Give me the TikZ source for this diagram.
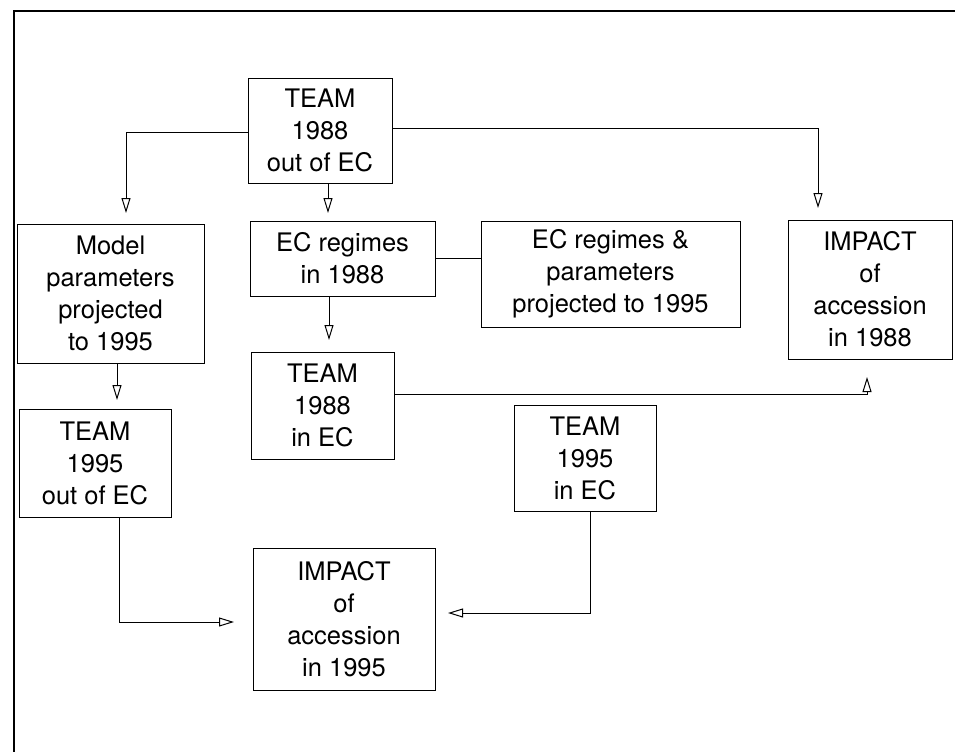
\documentclass[tikz,border=0pt]{standalone}
\usepackage{fontspec}
\setmainfont{TeX Gyre Heros}
\usetikzlibrary{arrows.meta}
\begin{document}
\begin{tikzpicture}[x=1pt,y=-1pt,
  box/.style={draw, line width=1pt, inner sep=0pt, align=center,
    font=\fontsize{25.5}{32}\selectfont},
  arr/.style={line width=1pt, -{Triangle[open,length=15pt,width=9pt]}},
  con/.style={line width=1pt}]
\useasboundingbox (0,0) rectangle (955,752);
\fill[white] (0,0) rectangle (955,752);
\draw[line width=2pt] (955,11) -- (14,11) -- (14,752);

\node[box,minimum width=144pt,minimum height=105pt] (A) at (320,130.5) {TEAM\\1988\\out of EC};
\node[box,minimum width=187pt,minimum height=139pt] (B) at (110.5,293.5) {Model\\parameters\\projected\\to 1995};
\node[box,minimum width=185pt,minimum height=75pt] (C) at (342.5,258.5) {EC regimes\\in 1988};
\node[box,minimum width=259pt,minimum height=106pt] (D) at (610.5,274) {EC regimes \&\\parameters\\projected to 1995};
\node[box,minimum width=164pt,minimum height=139pt] (E) at (870,289.5) {IMPACT\\of\\accession\\in 1988};
\node[box,minimum width=143pt,minimum height=107pt] (F) at (322.5,405.5) {TEAM\\1988\\in EC};
\node[box,minimum width=152pt,minimum height=108pt] (G) at (95,463) {TEAM\\1995\\out of EC};
\node[box,minimum width=142pt,minimum height=106pt] (H) at (585,458) {TEAM\\1995\\in EC};
\node[box,minimum width=182pt,minimum height=142pt] (I) at (344,619) {IMPACT\\of\\accession\\in 1995};

\coordinate (a1) at (126,224);
\coordinate (a2) at (328,221);
\coordinate (a3) at (818,220);
\coordinate (a5) at (329,352);
\coordinate (a6) at (867,359);
\coordinate (a7) at (117,409);
\coordinate (a8) at (253,622);
\coordinate (a9) at (435,613);

\draw[arr,shorten >=11pt] ([yshift=-1.5pt]A.west) -| (a1);
\draw[arr,shorten >=8pt] (A.south -| a2) -- (a2);
\draw[arr,shorten >=12pt] ([yshift=2.5pt]A.east) -| (a3);
\draw[con] (C.east) -- (C.east -| D.west);
\draw[arr,shorten >=12pt] (C.south -| a5) -- (a5);
\draw[arr,shorten >=18pt] ([yshift=11.5pt]F.east) -| (a6);
\draw[arr,shorten >=9pt] (B.south -| a7) -- (a7);
\draw[arr,shorten >=19pt] ([xshift=24pt]G.south) |- (a8);
\draw[arr,shorten >=13pt] ([xshift=5pt]H.south) |- (a9);
\end{tikzpicture}
\end{document}
